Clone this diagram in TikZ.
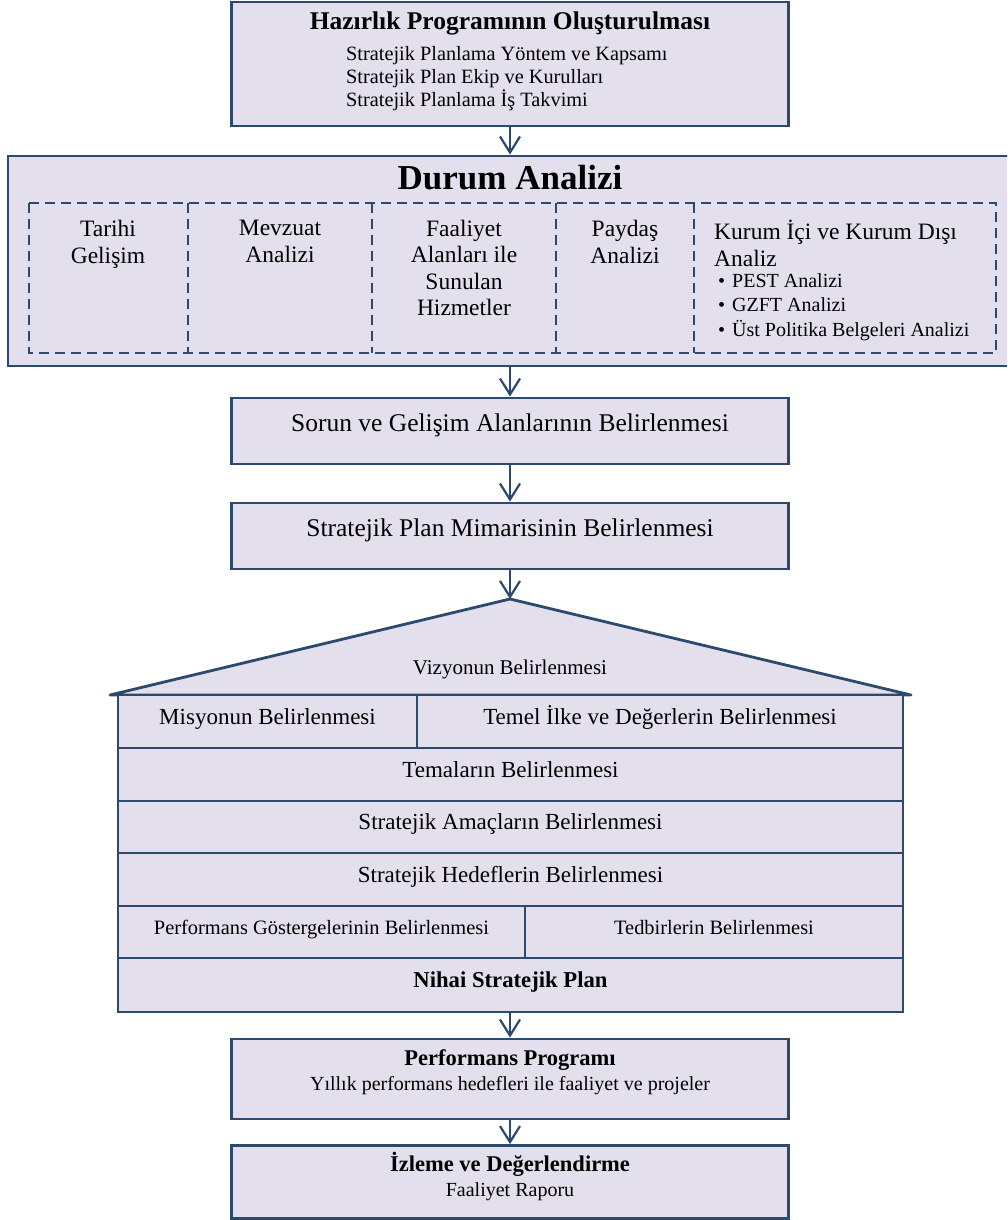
\documentclass[tikz,border=0pt]{standalone}
\usepackage{fontspec}
\setmainfont{Liberation Serif}
\usetikzlibrary{arrows.meta}
\definecolor{kutu}{HTML}{E4DFEC}
\definecolor{cizgi}{HTML}{2C4A6E}
\newcommand\boy[2]{\fontsize{#1}{#2}\selectfont}
\tikzset{
  kutu/.style={draw=cizgi, fill=kutu, line width=2.8pt, inner sep=0pt},
  yazi/.style={inner sep=0pt, text height=.7em, text depth=.17em},
  ana/.style={kutu, text height=.7em, text depth=.58em, font=\boy{25.5}{30}},
  satir/.style={kutu, yazi, font=\boy{23}{27}},
  ok/.style={draw=cizgi, line width=2.2pt, -{Straight Barb[length=16pt,width=20pt]}},
  kesik/.style={draw=cizgi, line width=2.4pt, dash pattern=on 10pt off 6pt},
}

\begin{document}
\begin{tikzpicture}[x=1pt,y=-1pt]
    \useasboundingbox (0,0) rectangle (1007,1220);
    \clip (0,0) rectangle (1007,1220);
    % Hazırlık
    \node[kutu, minimum width=557, minimum height=124] (hazir) at (510,64) {};
    \node[yazi, font=\bfseries\boy{25.5}{30}] (hazirB) at (510,27) {Hazırlık Programının Oluşturulması};
    \node[anchor=north west, align=left, inner sep=0pt, font=\boy{20.3}{23}] (hazirL) at (346,46)
      {Stratejik Planlama Yöntem ve Kapsamı\\Stratejik Plan Ekip ve Kurulları\\Stratejik Planlama İş Takvimi};
    % Durum Analizi
    \node[kutu, minimum width=1004, minimum height=210] (durum) at (510,261) {};
    \node[yazi, font=\bfseries\boy{35}{40}] (durumB) at (510,187) {Durum Analizi};
    \draw[kesik] (29,203) rectangle (996,353);
    \foreach \x in {188,372,556,694}
      \draw[kesik] (\x,203) -- (\x,353);
    \node[anchor=north, align=center, inner sep=0pt, font=\boy{23.5}{27}] (tarihi) at (108,220) {Tarihi\\Gelişim};
    \node[anchor=north, align=center, inner sep=0pt, font=\boy{23.5}{27}] (mevzuat) at (280,220) {Mevzuat\\Analizi};
    \node[anchor=north, align=center, inner sep=0pt, font=\boy{23.5}{26.3}] (faaliyet) at (464,220) {Faaliyet\\Alanları ile\\Sunulan\\Hizmetler};
    \node[anchor=north, align=center, inner sep=0pt, font=\boy{23.5}{27}] (paydas) at (625,220) {Paydaş\\Analizi};
    \node[anchor=north west, align=left, inner sep=0pt, font=\boy{23.5}{27}] (kurum) at (714,220) {Kurum İçi ve Kurum Dışı\\Analiz};
    \node[anchor=north west, align=left, inner sep=0pt, font=\boy{20}{24.5}] (kurumL) at (718,273)
      {\makebox[14pt][l]{\textbullet}PEST Analizi\\\makebox[14pt][l]{\textbullet}GZFT Analizi\\\makebox[14pt][l]{\textbullet}Üst Politika Belgeleri Analizi};
    % Sorun / Mimari
    \node[ana, minimum width=557, minimum height=66] (sorun) at (510,431) {Sorun ve Gelişim Alanlarının Belirlenmesi};
    \node[ana, minimum width=557, minimum height=66] (mimari) at (510,536) {Stratejik Plan Mimarisinin Belirlenmesi};
    % 屋根
    \coordinate (tepe) at (510,599);
    \draw[kutu, line join=round] (110,695) -- (tepe) -- (911,695) -- cycle;
    \node[yazi, font=\boy{21}{25}] (vizyon) at (510,672) {Vizyonun Belirlenmesi};
    % 各段
    \node[satir, minimum width=299, minimum height=53] (misyon) at (267.5,721.5) {Misyonun Belirlenmesi};
    \node[satir, minimum width=486, minimum height=53] (temel) at (660,721.5) {Temel İlke ve Değerlerin Belirlenmesi};
    \node[satir, minimum width=785, minimum height=53] (tema) at (510.5,774.5) {Temaların Belirlenmesi};
    \node[satir, minimum width=785, minimum height=52] (amac) at (510.5,827) {Stratejik Amaçların Belirlenmesi};
    \node[satir, minimum width=785, minimum height=53] (hedef) at (510.5,879.5) {Stratejik Hedeflerin Belirlenmesi};
    \node[satir, minimum width=407, minimum height=52, font=\boy{20.4}{24}] (gosterge) at (321.5,932) {Performans Göstergelerinin Belirlenmesi};
    \node[satir, minimum width=378, minimum height=52, font=\boy{20.4}{24}] (tedbir) at (714,932) {Tedbirlerin Belirlenmesi};
    \node[satir, minimum width=785, minimum height=54, font=\bfseries\boy{22.7}{26}] (nihai) at (510.5,985) {Nihai Stratejik Plan};
    % Performans / İzleme
    \node[kutu, minimum width=557, minimum height=80] (perf) at (510,1079) {};
    \node[yazi, font=\bfseries\boy{22.5}{26}] (perfB) at (510,1063) {Performans Programı};
    \node[yazi, font=\boy{20}{24}] (perfA) at (510,1088) {Yıllık performans hedefleri ile faaliyet ve projeler};
    \node[kutu, minimum width=557, minimum height=73] (izle) at (510,1182) {};
    \node[yazi, font=\bfseries\boy{22.5}{26}] (izleB) at (510,1169) {İzleme ve Değerlendirme};
    \node[yazi, font=\boy{20}{24}] (izleA) at (510,1194) {Faaliyet Raporu};
    % 矢印
    \draw[ok] (hazir.south) -- (hazir.south |- durum.north);
    \draw[ok] (durum.south) -- (sorun.north);
    \draw[ok] (sorun) -- (mimari);
    \draw[ok] (mimari.south) -- (tepe);
    \draw[ok] (nihai.south -| perf.north) -- (perf.north);
    \draw[ok] (perf) -- (izle);
\end{tikzpicture}
\end{document}
